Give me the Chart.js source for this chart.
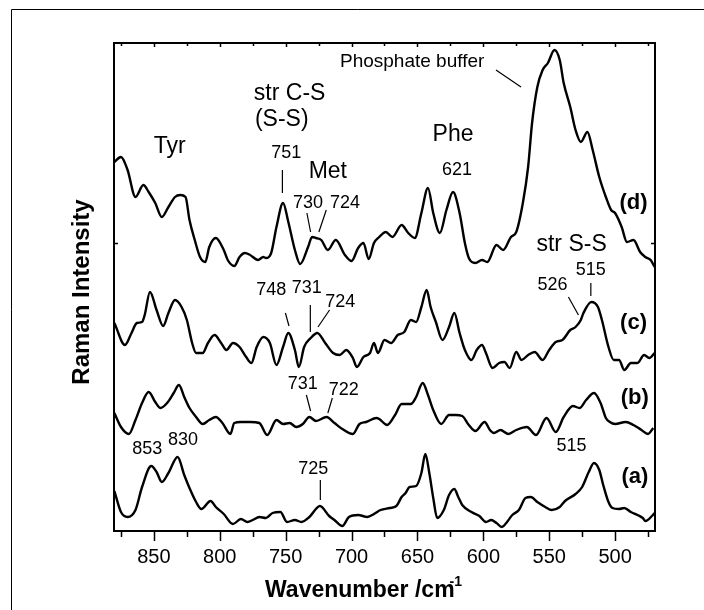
<!DOCTYPE html>
<html>
<head>
<meta charset="utf-8">
<script src="https://cdn.jsdelivr.net/npm/chart.js@4.4.1/dist/chart.umd.min.js"></script>
<style>
  html, body { margin: 0; padding: 0; background: #fff; }
  #wrap { width: 704px; height: 610px; }
</style>
</head>
<body>
<div id="wrap"><canvas id="ramanChart" width="704" height="610"></canvas></div>
<script>
// Spectra: wavenumber (cm-1) and offset intensity (arb. units)
const waveD = [880,875,870,864,858,854,849,844,839,834,830,826,823,819,815,811,808,803,797,794,789,785,781,777,771,767,765,761,757,752,748,743,739,733,730,727,723,718,712,705,700,695,691,687,683,679,674,669,662,657,652,647,642,638,633,628,623,618,614,611,606,601,597,590,585,579,575,570,566,563,559,555,551,546,542,539,534,530,526,521,517,512,507,503,500,495,491,486,481,477,473,470];
const intD = [369,374,361,334,346,339,328,314,324,334,336,334,311,291,274,269,284,293,281,271,265,274,278,276,271,274,273,278,304,328,309,281,267,284,294,293,291,281,291,276,270,283,288,272,288,294,299,294,306,298,293,318,343,318,298,321,339,318,288,273,268,271,269,286,281,294,299,328,364,408,444,461,468,481,471,448,424,401,389,399,381,354,334,321,318,304,289,291,279,274,271,264];

const waveC = [880,872,867,863,859,857,853,848,843,839,834,829,825,821,818,813,809,804,799,795,790,785,780,776,772,767,762,757,752,748,743,740,736,731,726,720,714,709,704,699,696,691,686,683,680,675,670,665,660,655,651,647,643,640,636,631,626,622,618,614,609,605,601,598,593,588,584,580,575,571,566,561,555,550,545,540,534,530,526,524,518,513,510,505,501,497,493,488,483,478,474,470];
const intC = [208,186,198,208,209,216,239,221,205,218,231,224,211,188,178,178,188,196,188,181,188,184,174,168,184,194,188,166,184,198,181,164,184,193,198,188,178,176,181,173,164,174,178,188,178,191,188,196,199,211,209,224,241,224,209,191,204,218,198,181,171,181,186,178,163,168,169,163,179,171,176,179,171,181,189,191,201,204,211,218,229,224,211,184,171,171,161,168,168,176,173,178];

const waveB = [880,875,869,864,859,854,849,845,840,835,831,827,823,818,813,808,803,798,792,789,784,777,770,764,757,752,747,742,737,732,727,719,713,707,699,694,689,681,679,673,667,662,655,651,646,642,638,632,626,621,616,611,606,599,595,592,587,581,575,567,560,552,545,539,532,527,522,516,511,507,504,500,492,486,480,475,471];
const intB = [118,104,97,111,128,139,129,123,128,138,146,134,123,114,107,111,114,108,97,108,109,109,108,96,111,107,108,104,107,114,110,114,108,102,97,107,109,113,112,106,116,127,127,134,148,136,121,107,116,116,115,106,100,109,101,98,101,97,101,104,96,113,99,114,125,123,131,138,128,113,109,107,109,106,101,97,103];

const waveA = [880,875,870,864,859,852,848,844,839,832,827,823,818,814,807,803,797,790,784,779,775,770,765,760,754,749,743,738,732,724,717,713,707,702,695,688,683,678,671,666,662,659,656,651,647,644,641,638,635,630,626,622,619,616,609,603,598,594,590,586,582,578,573,568,564,559,553,548,542,538,530,525,520,516,512,509,505,502,497,493,488,483,479,477,472,470];
const intA = [40,19,14,21,44,65,59,49,58,74,56,43,29,22,30,24,17,7,12,9,11,14,13,18,19,9,11,9,14,25,15,11,5,14,16,14,17,21,23,25,34,38,44,45,58,77,58,33,13,21,36,42,34,26,19,15,9,11,8,4,9,16,21,33,34,29,24,21,24,30,37,44,59,68,61,46,29,23,22,23,19,16,13,10,15,18];

// axis ticks (cm-1) and the single intensity tick
const majorTicks = [850, 800, 750, 700, 650, 600, 550, 500];
const minorTicks = [875, 825, 775, 725, 675, 625, 575, 525, 475];
const intensityTicks = [288];

// labels on the plot: text, wavenumber, intensity, kind
const notes = [
  ['Tyr', 838, 384, 'band'],
  ['str C-S', 747, 437, 'band'],
  ['(S-S)', 753, 411, 'band'],
  ['751', 749.5, 378, 'num'],
  ['Met', 718, 359, 'band'],
  ['730', 733, 328, 'num'],
  ['724', 705, 328, 'num'],
  ['Phosphate buffer', 654, 469, 'small'],
  ['Phe', 623, 396, 'band'],
  ['621', 620, 361, 'num'],
  ['(d)', 486, 328, 'trace'],
  ['str S-S', 533, 286, 'band'],
  ['515', 518.5, 261, 'num'],
  ['526', 547.5, 246, 'num'],
  ['(c)', 486, 208, 'trace'],
  ['748', 761, 241, 'num'],
  ['731', 734, 243, 'num'],
  ['724', 708.5, 229, 'num'],
  ['731', 737, 147, 'num'],
  ['722', 706, 141, 'num'],
  ['(b)', 485, 133, 'trace'],
  ['515', 533, 85, 'num'],
  ['853', 855, 82, 'num'],
  ['830', 828, 91, 'num'],
  ['725', 729, 62, 'num'],
  ['(a)', 485, 54, 'trace']
];

// leader lines: from (wavenumber, intensity) to (wavenumber, intensity)
const leaders = [
  [590.4, 461, 571.4, 444],
  [752.5, 361, 752.5, 338],
  [733.9, 318, 731.1, 299],
  [719.2, 321, 724.8, 299],
  [518.4, 248, 518.4, 235],
  [535.4, 234, 527.8, 216],
  [750.2, 218, 747.5, 205],
  [731.3, 226, 731.3, 199],
  [716.7, 221, 725.5, 204],
  [734.3, 136, 731.1, 120],
  [714.6, 133, 718.0, 118],
  [723.7, 51, 723.7, 31]
];

const FONT = '"Liberation Sans", Arial, sans-serif';
const noteFonts = {
  band: '23px ' + FONT,
  num: '18px ' + FONT,
  small: '19px ' + FONT,
  trace: 'bold 22px ' + FONT
};

function toPoints(wave, vals) {
  return wave.map((w, i) => ({ x: w, y: vals[i] }));
}

function spectrum(label, wave, vals) {
  return {
    label: label,
    data: toPoints(wave, vals),
    borderColor: '#000',
    borderWidth: 2.4,
    pointRadius: 0,
    fill: false,
    cubicInterpolationMode: 'monotone'
  };
}

// frame, ticks, notes and axis titles
const decorations = {
  id: 'decorations',
  afterDatasetsDraw(chart) {
    const ctx = chart.ctx;
    const xs = chart.scales.x;
    const ys = chart.scales.y;
    const area = chart.chartArea;
    ctx.save();

    // outer figure frame
    ctx.strokeStyle = '#000';
    ctx.lineWidth = 1;
    ctx.beginPath();
    ctx.moveTo(11.5, 610);
    ctx.lineTo(11.5, 9.5);
    ctx.lineTo(704, 9.5);
    ctx.stroke();

    // plot box
    ctx.lineWidth = 2;
    ctx.strokeRect(area.left, area.top, area.right - area.left, area.bottom - area.top);

    // x ticks: outward at bottom, inward at top
    ctx.lineWidth = 1.5;
    ctx.beginPath();
    majorTicks.forEach(t => {
      const px = Math.round(xs.getPixelForValue(t)) + 0.5;
      ctx.moveTo(px, area.bottom); ctx.lineTo(px, area.bottom + 10);
      ctx.moveTo(px, area.top); ctx.lineTo(px, area.top + 4);
    });
    minorTicks.forEach(t => {
      const px = Math.round(xs.getPixelForValue(t)) + 0.5;
      ctx.moveTo(px, area.bottom); ctx.lineTo(px, area.bottom + 6);
      ctx.moveTo(px, area.top); ctx.lineTo(px, area.top + 3);
    });
    intensityTicks.forEach(t => {
      const py = Math.round(ys.getPixelForValue(t)) + 0.5;
      ctx.moveTo(area.left, py); ctx.lineTo(area.left + 4, py);
      ctx.moveTo(area.right, py); ctx.lineTo(area.right - 4, py);
    });
    ctx.stroke();

    // leader lines
    ctx.lineWidth = 1.2;
    ctx.beginPath();
    leaders.forEach(l => {
      ctx.moveTo(xs.getPixelForValue(l[0]), ys.getPixelForValue(l[1]));
      ctx.lineTo(xs.getPixelForValue(l[2]), ys.getPixelForValue(l[3]));
    });
    ctx.stroke();

    // annotations
    ctx.fillStyle = '#000';
    ctx.textAlign = 'center';
    ctx.textBaseline = 'middle';
    notes.forEach(n => {
      ctx.font = noteFonts[n[3]];
      ctx.fillText(n[0], xs.getPixelForValue(n[1]), ys.getPixelForValue(n[2]));
    });

    // x axis title with superscript
    ctx.textAlign = 'left';
    ctx.textBaseline = 'alphabetic';
    ctx.font = 'bold 23px ' + FONT;
    const main = 'Wavenumber /cm';
    ctx.fillText(main, 265, 597);
    const w = ctx.measureText(main).width;
    ctx.font = 'bold 14px ' + FONT;
    ctx.fillText('-1', 265 + w - 5, 586);

    // y axis title
    ctx.translate(89, 292);
    ctx.rotate(-Math.PI / 2);
    ctx.textAlign = 'center';
    ctx.font = 'bold 24px ' + FONT;
    ctx.fillText('Raman Intensity', 0, 0);
    ctx.restore();
  }
};

new Chart(document.getElementById('ramanChart'), {
  type: 'line',
  data: {
    datasets: [
      spectrum('(d)', waveD, intD),
      spectrum('(c)', waveC, intC),
      spectrum('(b)', waveB, intB),
      spectrum('(a)', waveA, intA)
    ]
  },
  options: {
    responsive: false,
    devicePixelRatio: 1,
    animation: false,
    events: [],
    layout: { padding: { left: 114, right: 49, top: 43, bottom: 0 } },
    plugins: { legend: { display: false }, tooltip: { enabled: false } },
    scales: {
      x: {
        type: 'linear',
        reverse: true,
        min: 469.7,
        max: 880.3,
        afterFit: s => { s.height = 79; },
        border: { display: false },
        grid: { display: false, drawTicks: false },
        ticks: {
          stepSize: 50,
          includeBounds: false,
          padding: 14,
          maxRotation: 0,
          color: '#000',
          font: { family: FONT, size: 20 }
        }
      },
      y: {
        type: 'linear',
        display: false,
        min: 0,
        max: 488
      }
    }
  },
  plugins: [decorations]
});
</script>
</body>
</html>
